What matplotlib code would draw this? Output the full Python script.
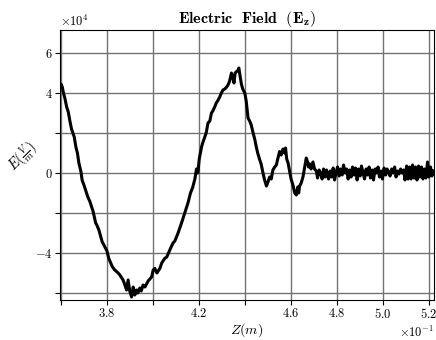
import numpy as np
import matplotlib
matplotlib.use("Agg")
import matplotlib.pyplot as plt
from matplotlib.ticker import ScalarFormatter

plt.rcParams['font.family'] = 'serif'
plt.rcParams['font.serif'] = ['cmr10']
plt.rcParams['mathtext.fontset'] = 'cm'
plt.rcParams['axes.formatter.use_mathtext'] = True
plt.rcParams['axes.unicode_minus'] = True

# position along the axis (m)
z = [0.3598, 0.3600, 0.3606, 0.3611, 0.3617, 0.3625, 0.3632, 0.3639, 0.3646, 0.3658,
     0.3665, 0.3672, 0.3678, 0.3687, 0.3692, 0.3700, 0.3707, 0.3717, 0.3726, 0.3740,
     0.3751, 0.3756, 0.3765, 0.3779, 0.3794, 0.3800, 0.3808, 0.3823, 0.3834, 0.3849,
     0.3856, 0.3870, 0.3878, 0.3885, 0.3892, 0.3899, 0.3907, 0.3914, 0.3921, 0.3929,
     0.3934, 0.3943, 0.3949, 0.3957, 0.3965, 0.3979, 0.3994, 0.4001, 0.4008, 0.4017,
     0.4030, 0.4038, 0.4051, 0.4060, 0.4073, 0.4087, 0.4095, 0.4109, 0.4124, 0.4138,
     0.4152, 0.4163, 0.4173, 0.4182, 0.4189, 0.4195, 0.4201, 0.4211, 0.4216, 0.4225,
     0.4231, 0.4239, 0.4247, 0.4254, 0.4260, 0.4268, 0.4275, 0.4283, 0.4290, 0.4297,
     0.4304, 0.4312, 0.4320, 0.4326, 0.4333, 0.4341, 0.4346, 0.4352, 0.4357, 0.4363,
     0.4368, 0.4373, 0.4379, 0.4384, 0.4390, 0.4399, 0.4405, 0.4413, 0.4420, 0.4427,
     0.4435, 0.4442, 0.4449, 0.4455, 0.4464, 0.4470, 0.4478, 0.4485, 0.4493, 0.4498,
     0.4507, 0.4514, 0.4521, 0.4529, 0.4536, 0.4542, 0.4550, 0.4557, 0.4565, 0.4572,
     0.4576, 0.4581, 0.4587, 0.4594, 0.4600, 0.4608, 0.4616, 0.4623, 0.4629, 0.4633,
     0.4637, 0.4644, 0.4652, 0.4659, 0.4666, 0.4672, 0.4676, 0.4681, 0.4687, 0.4695,
     0.4702, 0.4710, 0.4715, 0.4722, 0.4728, 0.4735, 0.4741, 0.4748, 0.4754, 0.4763,
     0.4770, 0.4776, 0.4783, 0.4789, 0.4796, 0.4802, 0.4809, 0.4815, 0.4822, 0.4828,
     0.4835, 0.4841, 0.4848, 0.4854, 0.4861, 0.4867, 0.4874, 0.4880, 0.4887, 0.4893,
     0.4900, 0.4906, 0.4913, 0.4919, 0.4926, 0.4932, 0.4939, 0.4945, 0.4952, 0.4958,
     0.4965, 0.4971, 0.4978, 0.4984, 0.4991, 0.4997, 0.5004, 0.5011, 0.5017, 0.5024,
     0.5030, 0.5037, 0.5043, 0.5050, 0.5056, 0.5063, 0.5069, 0.5076, 0.5082, 0.5089,
     0.5095, 0.5102, 0.5108, 0.5115, 0.5121, 0.5128, 0.5134, 0.5141, 0.5147, 0.5154,
     0.5160, 0.5167, 0.5173, 0.5180, 0.5186, 0.5193, 0.5199, 0.5206, 0.5212, 0.5219]

# field, in units of 1e4 V/m
ez = [4.35, 4.45, 4.3, 4.0, 3.75, 3.3, 3.05, 2.6, 2.2, 1.8,
      1.3, 0.98, 0.5, 0.07, -0.35, -0.6, -0.85, -1.2, -1.43, -1.93,
      -2.5, -2.6, -2.85, -3.43, -3.77, -3.9, -4.27, -4.68, -4.85, -5.0,
      -5.1, -5.35, -5.6, -5.85, -5.35, -5.9, -6.2, -5.7, -6.1, -5.85,
      -6.0, -5.75, -5.9, -5.6, -5.7, -5.4, -5.2, -4.85, -4.77, -5.0,
      -4.77, -4.5, -4.27, -4.2, -3.85, -3.5, -3.4, -3.0, -2.5, -2.0,
      -1.5, -1.0, -0.7, -0.3, 0.2, 0.0, 0.7, 1.3, 1.5, 1.8,
      2.0, 2.5, 2.6, 3.0, 3.1, 3.3, 3.5, 3.65, 3.8, 4.0,
      4.15, 4.2, 4.3, 4.4, 4.6, 5.0, 4.8, 4.5, 5.0, 5.07,
      5.1, 5.25, 4.8, 4.45, 4.2, 4.0, 3.6, 2.75, 2.6, 2.4,
      2.0, 1.7, 1.3, 1.0, 0.65, 0.45, 0.0, -0.35, -0.65, -0.5,
      -0.2, -0.3, 0.15, 0.3, 0.4, 0.7, 1.07, 0.9, 1.2, 1.0,
      1.25, 0.7, 0.5, 0.07, -0.3, -0.6, -1.0, -1.1, -0.7, -1.0,
      -0.65, -0.5, -0.18, 0.3, 0.75, 0.55, 0.3, 0.45, 0.2, 0.55,
      0.2, 0.1, -0.25, 0.15, 0.0, -0.3, 0.2, -0.2, 0.15, -0.3,
      0.1, -0.2, 0.25, -0.35, 0.05, 0.3, -0.15, 0.2, -0.1, 0.4,
      0.0, 0.2, -0.3, 0.15, -0.2, 0.3, -0.1, 0.25, -0.35, 0.2,
      -0.15, 0.35, 0.0, -0.3, 0.2, -0.1, 0.3, -0.25, 0.15, -0.35,
      0.2, 0.0, 0.3, -0.2, 0.1, -0.3, 0.25, -0.1, 0.2, 0.05,
      -0.15, 0.2, 0.0, 0.3, -0.2, 0.1, -0.05, 0.2, 0.0, 0.15,
      -0.35, 0.35, -0.3, 0.3, -0.3, 0.4, -0.25, 0.3, -0.35, 0.35,
      -0.2, 0.3, -0.3, 0.2, -0.25, 0.55, -0.2, 0.3, -0.15, 0.1]

xticks = [0.36, 0.38, 0.40, 0.42, 0.44, 0.46, 0.48, 0.50, 0.52]
xshown = [0.38, 0.42, 0.46, 0.48, 0.50, 0.52]
yticks = [-6e4, -4e4, -2e4, 0, 2e4, 4e4, 6e4]
yshown = [-4e4, 0, 4e4, 6e4]


class PartFormatter(ScalarFormatter):
    def __init__(self, shown):
        super().__init__(useMathText=True)
        self.shown = shown

    def __call__(self, x, pos=None):
        if not any(abs(x - s) < 1e-9 * max(1, abs(s)) for s in self.shown):
            return ''
        return super().__call__(x, pos)


fig = plt.figure(figsize=(4.36, 3.4), dpi=100)
ax = fig.add_axes([60/436, 40/340, 374/436, 270/340])

ax.plot(z, np.array(ez) * 1e4, color='black', lw=2.2)

ax.set_xlim(0.3596, 0.5221)
ax.set_ylim(-6.35e4, 7.15e4)
ax.set_xticks(xticks)
ax.set_yticks(yticks)
fx = PartFormatter(xshown)
fx.set_powerlimits((0, 0))
fy = PartFormatter(yshown)
fy.set_powerlimits((0, 0))
ax.xaxis.set_major_formatter(fx)
ax.yaxis.set_major_formatter(fy)
ax.tick_params(labelsize=9, pad=1.5)
ax.xaxis.get_offset_text().set_fontsize(9)
ax.yaxis.get_offset_text().set_fontsize(9)

ax.grid(True, color='0.45', lw=1.0)
ax.set_axisbelow(True)

ax.set_title(r'$\mathbf{Electric\ \ Field\ \ (E_z)}$', fontsize=11.5, pad=5)
ax.set_xlabel(r'$Z(m)$', fontsize=10, labelpad=0)
fig.text(23/436, 1 - 157/340, r'$E(\frac{V}{m})$', rotation=45, fontsize=10.5,
         ha='center', va='center')

fig.savefig('out.png', dpi=100)
